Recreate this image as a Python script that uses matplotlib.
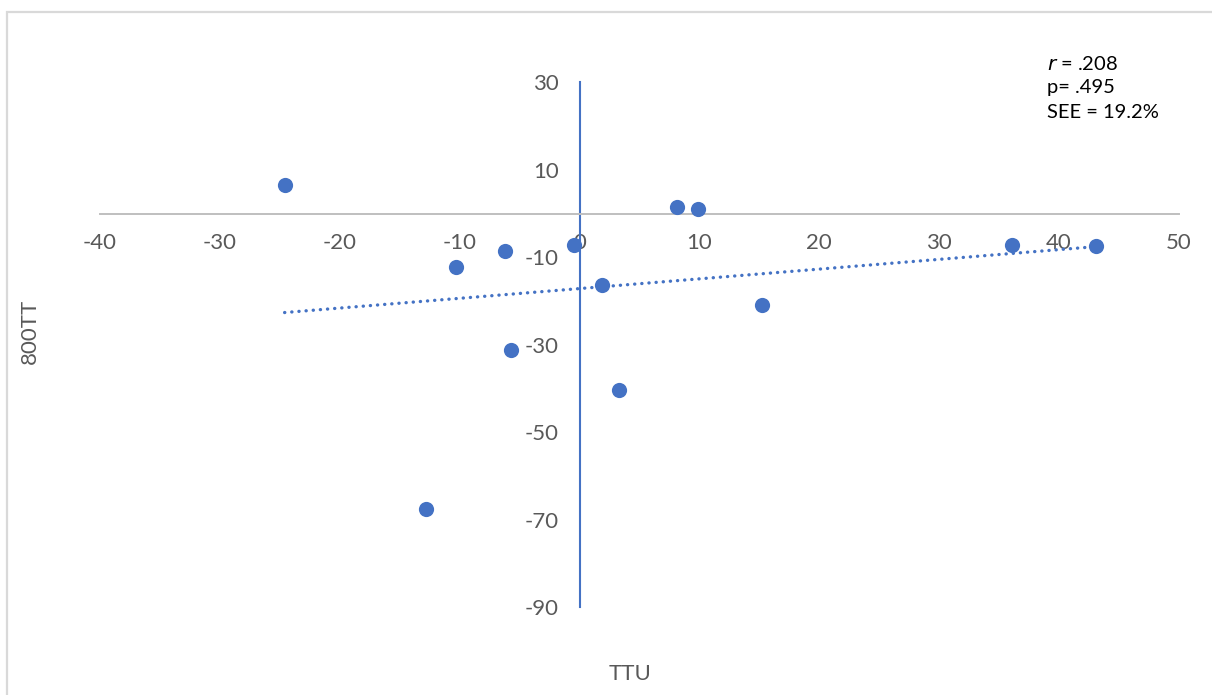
import numpy as np
import matplotlib
matplotlib.use("Agg")
import matplotlib.pyplot as plt
from matplotlib.patches import Rectangle

plt.rcParams['font.family'] = ['Lato', 'DejaVu Sans']
plt.rcParams['axes.unicode_minus'] = False

# TTU vs 800TT differences
ttu = [-24.6, -10.3, -6.2, -0.5, 1.9, 8.1, 9.9, 15.2, 36.1, 43.1, -5.7, 3.3, -12.8]
tt800 = [6.5, -12.3, -8.6, -7.2, -16.4, 1.5, 1.0, -21.0, -7.2, -7.5, -31.1, -40.3, -67.5]

x_ticks = [-40, -30, -20, -10, 0, 10, 20, 30, 40, 50]
y_ticks = [30, 10, -10, -30, -50, -70, -90]

stats_lines = [r"$\it{r}$ = .208", "p= .495", "SEE = 19.2%"]

blue = "#4472C4"
grey_txt = "#595959"

fig = plt.figure(figsize=(12.12, 6.95), dpi=100)
ax = fig.add_axes([0.0825, 0.1266, 0.8903, 0.7547])

# linear trend across the data range
slope, icpt = np.polyfit(ttu, tt800, 1)
tx = np.array([min(ttu), max(ttu)])
ax.plot(tx, slope * tx + icpt, color=blue, lw=2.4,
        linestyle=(0, (0.05, 2.1)), dash_capstyle='round', zorder=2)

ax.scatter(ttu, tt800, s=120, color=blue, zorder=3, linewidths=0)

ax.set_xlim(-40, 50)
ax.set_ylim(-90, 30)
ax.set_xticks(x_ticks)
ax.set_yticks(y_ticks)

# axes cross at the origin
ax.spines['left'].set_position(('data', 0))
ax.spines['bottom'].set_position(('data', 0))
ax.spines['top'].set_visible(False)
ax.spines['right'].set_visible(False)
ax.spines['bottom'].set_color("#BFBFBF")
ax.spines['bottom'].set_linewidth(1.4)
ax.spines['left'].set_color(blue)
ax.spines['left'].set_linewidth(1.5)

ax.tick_params(axis='x', length=0, pad=14, labelsize=16, labelcolor=grey_txt)
ax.tick_params(axis='y', length=0, pad=15, labelsize=16, labelcolor=grey_txt)
ax.patch.set_alpha(0)

# axis titles
fig.text(630 / 1212, 1 - 674 / 695, "TTU", ha='center', va='center',
         fontsize=16, color=grey_txt)
fig.text(30 / 1212, 1 - 331 / 695, "800TT", ha='center', va='center',
         fontsize=16, color=grey_txt, rotation=90)

# regression stats
for i, line in enumerate(stats_lines):
    fig.text(1047 / 1212, 1 - (64 + 24 * i) / 695, line, ha='left', va='center',
             fontsize=14.5, color='black')

# chart frame
fig.patches.append(Rectangle((7 / 1212, -0.2), 1.2, 1.2 - 12 / 695,
                             transform=fig.transFigure, fill=False,
                             edgecolor="#D9D9D9", lw=1.6))

fig.savefig("out.png", dpi=100)
